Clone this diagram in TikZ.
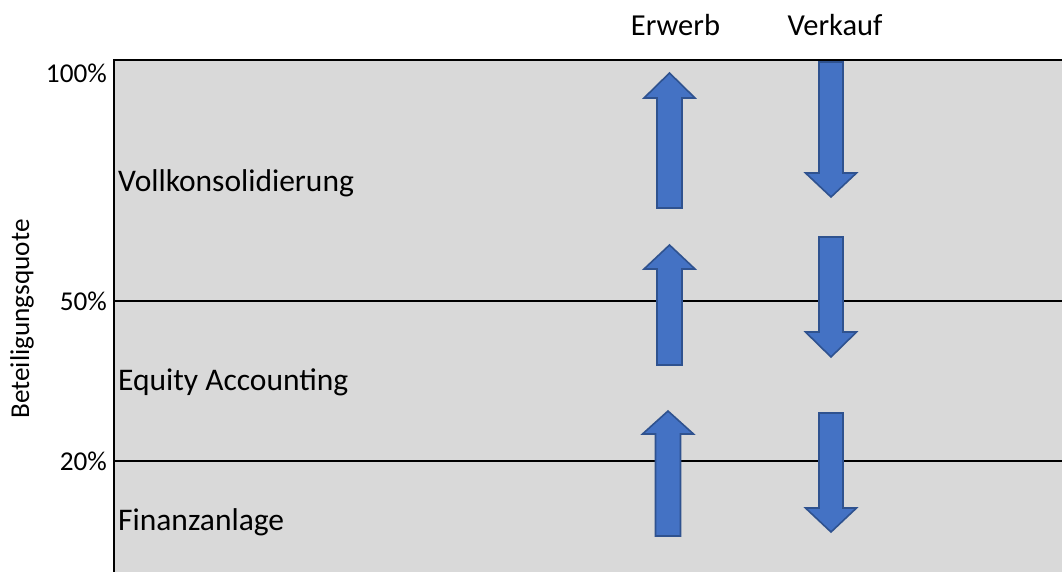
\documentclass[tikz,border=0pt]{standalone}
\usepackage{fontspec}
\setmainfont{Carlito}
\definecolor{panelgrey}{HTML}{D9D9D9}
\definecolor{arrfill}{HTML}{4472C4}
\definecolor{arrline}{HTML}{2F528F}
\tikzset{
  panel/.style={fill=panelgrey,draw=none},
  border/.style={draw=black,line width=2pt},
  divider/.style={draw=black,line width=1.6pt},
  bigarrow/.style={fill=arrfill,draw=arrline,line width=1.6pt,line join=miter},
  lbl/.style={font=\fontsize{31.5}{36}\selectfont,inner sep=0pt},
  hdr/.style={font=\fontsize{30.5}{36}\selectfont,inner sep=0pt},
  pct/.style={font=\fontsize{27.2}{32}\selectfont,inner sep=0pt},
}
\newcommand{\UpArr}[4]{% center x, tip y, head base y, bottom y
  \path[bigarrow] ({#1-12.5},#4) -- ({#1-12.5},#3) -- ({#1-25.5},#3) -- (#1,#2) -- ({#1+25.5},#3) -- ({#1+12.5},#3) -- ({#1+12.5},#4) -- cycle;}
\newcommand{\DownArr}[4]{% center x, top y, head base y, tip y
  \path[bigarrow] ({#1-12},#2) -- ({#1+12},#2) -- ({#1+12},#3) -- ({#1+25.5},#3) -- (#1,#4) -- ({#1-25.5},#3) -- ({#1-12},#3) -- cycle;}
\begin{document}
\begin{tikzpicture}[x=1pt,y=-1pt]
\useasboundingbox (0,0) rectangle (1062,571);
\begin{scope}
\clip (0,0) rectangle (1062,571);
\path[panel] (114,60) rectangle (1070,580);
\draw[border] (114,580) -- (114,60) -- (1070,60);
\draw[divider] (114,301) -- (1070,301);
\draw[divider] (114,461) -- (1070,461);
\end{scope}
% arrows
\UpArr{669.5}{73}{98}{208}
\UpArr{669.5}{245}{269}{365}
\UpArr{668}{411}{434}{536}
\DownArr{831}{62}{173}{197}
\DownArr{831}{237}{332}{357}
\DownArr{831}{413}{508}{532}
% texts
\node[hdr,anchor=base] (erwerb) at (675.5,35) {Erwerb};
\node[hdr,anchor=base] (verkauf) at (835,35) {Verkauf};
\node[pct,anchor=base east] (p100) at (107,82) {100\%};
\node[pct,anchor=base east] (p50) at (107,310) {50\%};
\node[pct,anchor=base east] (p20) at (107,470) {20\%};
\node[lbl,anchor=base west] (voll) at (118,191) {Vollkonsolidierung};
\node[lbl,anchor=base west] (equity) at (118,390) {Equity Accounting};
\node[lbl,anchor=base west] (finanz) at (118,530) {Finanzanlage};
\node[pct,rotate=90,anchor=center] (quote) at (22,319) {Beteiligungsquote};
\end{tikzpicture}
\end{document}
